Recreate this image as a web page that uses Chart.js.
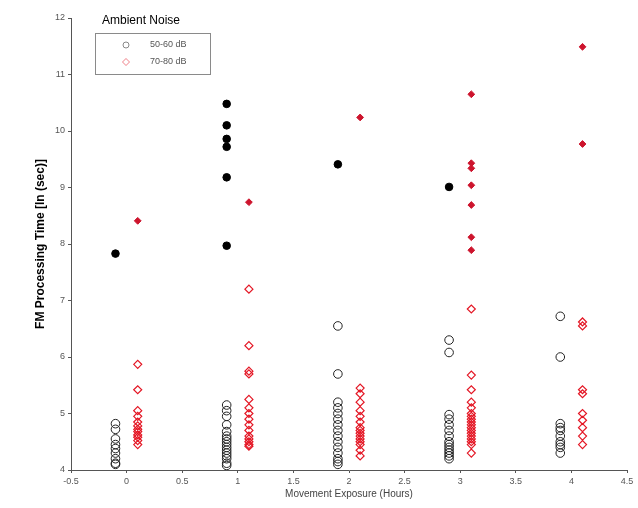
<!DOCTYPE html>
<html>
<head>
<meta charset="utf-8">
<script src="https://cdn.jsdelivr.net/npm/chart.js@4/dist/chart.umd.min.js"></script>
<style>
  html, body { margin: 0; padding: 0; background: #fff; }
  #wrap { width: 638px; height: 508px; }
</style>
</head>
<body>
<div id="wrap"><canvas id="scatter"></canvas></div>
<script>
// x positions of each group (hours, offset left/right of the whole hour)
const quietX = [-0.1, 0.9, 1.9, 2.9, 3.9];
const loudX = [0.1, 1.1, 2.1, 3.1, 4.1];

// 50-60 dB, open circles
const quietOpen = [
  [4.82, 4.72, 4.55, 4.45, 4.38, 4.3, 4.2, 4.12, 4.1],
  [5.15, 5.05, 4.95, 4.8, 4.68, 4.6, 4.55, 4.5, 4.45, 4.4, 4.35, 4.3, 4.25, 4.2, 4.12, 4.08],
  [6.55, 5.7, 5.2, 5.1, 5.0, 4.9, 4.8, 4.7, 4.6, 4.5, 4.4, 4.3, 4.2, 4.15, 4.1],
  [6.3, 6.08, 4.98, 4.9, 4.8, 4.7, 4.6, 4.5, 4.45, 4.4, 4.35, 4.3, 4.25, 4.2],
  [6.72, 6.0, 4.82, 4.75, 4.7, 4.6, 4.5, 4.45, 4.4, 4.3]
];
// 50-60 dB, filled circles
const quietFilled = [
  [7.83],
  [10.48, 10.1, 9.86, 9.72, 9.18, 7.97],
  [9.41],
  [9.01],
  []
];
// 70-80 dB, open diamonds
const loudOpen = [
  [5.87, 5.42, 5.05, 4.95, 4.85, 4.78, 4.72, 4.68, 4.62, 4.58, 4.52, 4.45],
  [7.2, 6.2, 5.75, 5.7, 5.25, 5.1, 5.0, 4.9, 4.8, 4.7, 4.6, 4.55, 4.5, 4.45, 4.42],
  [5.45, 5.35, 5.2, 5.05, 4.95, 4.85, 4.75, 4.7, 4.65, 4.6, 4.55, 4.5, 4.45, 4.35, 4.25],
  [6.85, 5.68, 5.42, 5.2, 5.1, 5.0, 4.95, 4.9, 4.85, 4.8, 4.75, 4.7, 4.65, 4.6, 4.55, 4.5, 4.45, 4.3],
  [6.62, 6.55, 5.42, 5.35, 5.0, 4.88, 4.75, 4.6, 4.45]
];
// 70-80 dB, filled diamonds
const loudFilled = [
  [8.41],
  [8.74],
  [10.24],
  [10.65, 9.43, 9.34, 9.04, 8.69, 8.12, 7.89],
  [11.49, 9.77]
];

const xTicks = { min: -0.5, max: 4.5, step: 0.5 };
const yTicks = { min: 4, max: 12, step: 1 };

const toPoints = (xs, groups) => {
  const pts = [];
  groups.forEach((vals, i) => vals.forEach(v => pts.push({ x: xs[i], y: v })));
  return pts;
};

const black = '#000000';
const red = 'rgb(228, 22, 36)';

// legend drawn inside the axes, with a box round it and a title above
const boxLegend = {
  id: 'boxLegend',
  afterDraw(chart) {
    const ctx = chart.ctx;
    ctx.save();
    ctx.font = '12px "Liberation Sans", Arial, sans-serif';
    ctx.fillStyle = '#000';
    ctx.textBaseline = 'middle';
    ctx.fillText('Ambient Noise', 102, 21);
    ctx.strokeStyle = '#8a8a8a';
    ctx.lineWidth = 1;
    ctx.strokeRect(95.5, 33.5, 115, 41);
    ctx.font = '9px "Liberation Sans", Arial, sans-serif';
    ctx.fillStyle = '#555';
    const items = [chart.data.datasets[0], chart.data.datasets[2]];
    items.forEach((ds, i) => {
      const y = 45 + i * 17;
      ctx.strokeStyle = i === 0 ? '#888' : 'rgba(228,22,36,0.55)';
      ctx.beginPath();
      if (i === 0) {
        ctx.arc(126, y, 3, 0, Math.PI * 2);
      } else {
        ctx.moveTo(126, y - 3.5); ctx.lineTo(129.5, y); ctx.lineTo(126, y + 3.5); ctx.lineTo(122.5, y); ctx.closePath();
      }
      ctx.stroke();
      ctx.fillText(ds.label, 150, y);
    });
    ctx.restore();
  }
};

new Chart(document.getElementById('scatter'), {
  type: 'scatter',
  data: {
    datasets: [
      {
        label: '50-60 dB',
        data: toPoints(quietX, quietOpen),
        pointStyle: 'circle',
        pointRadius: 4.3,
        borderWidth: 1,
        borderColor: '#222',
        backgroundColor: 'rgba(0,0,0,0)'
      },
      {
        label: '50-60 dB filled',
        data: toPoints(quietX, quietFilled),
        pointStyle: 'circle',
        pointRadius: 3.8,
        borderWidth: 1,
        borderColor: black,
        backgroundColor: black
      },
      {
        label: '70-80 dB',
        data: toPoints(loudX, loudOpen),
        pointStyle: 'rectRot',
        pointRadius: 4,
        borderWidth: 1.2,
        borderColor: red,
        backgroundColor: 'rgba(0,0,0,0)'
      },
      {
        label: '70-80 dB filled',
        data: toPoints(loudX, loudFilled),
        pointStyle: 'rectRot',
        pointRadius: 3.4,
        borderWidth: 1,
        borderColor: 'rgb(205, 20, 45)',
        backgroundColor: 'rgb(205, 20, 45)'
      }
    ]
  },
  options: {
    responsive: true,
    maintainAspectRatio: false,
    animation: false,
    layout: { padding: { left: 0, right: 11, top: 18, bottom: 0 } },
    plugins: {
      legend: { display: false },
      tooltip: { enabled: false }
    },
    scales: {
      x: {
        type: 'linear',
        min: xTicks.min,
        max: xTicks.max,
        afterFit: (scale) => { scale.height = 38; },
        border: { display: true, color: '#555', width: 1 },
        grid: { display: true, drawOnChartArea: false, drawTicks: true, tickLength: 3, color: '#555' },
        ticks: {
          stepSize: xTicks.step,
          padding: 3,
          color: '#555',
          font: { family: '"Liberation Sans", Arial, sans-serif', size: 9 },
          maxRotation: 0,
          callback: (v) => String(v)
        },
        title: {
          display: true,
          text: 'Movement Exposure (Hours)',
          color: '#444',
          font: { family: '"Liberation Sans", Arial, sans-serif', size: 10 },
          padding: { top: 0, bottom: 8 }
        }
      },
      y: {
        type: 'linear',
        min: yTicks.min,
        max: yTicks.max,
        afterFit: (scale) => { scale.width = 71; },
        border: { display: true, color: '#555', width: 1 },
        grid: { display: true, drawOnChartArea: false, drawTicks: true, tickLength: 3, color: '#555' },
        ticks: {
          stepSize: yTicks.step,
          padding: 3,
          color: '#555',
          font: { family: '"Liberation Sans", Arial, sans-serif', size: 9 }
        },
        title: {
          display: true,
          text: 'FM Processing Time [ln (sec)]',
          color: '#000',
          font: { family: '"Liberation Sans", Arial, sans-serif', size: 12, weight: 'bold' },
          padding: { top: 33, bottom: 0 }
        }
      }
    }
  },
  plugins: [boxLegend]
});
</script>
</body>
</html>
